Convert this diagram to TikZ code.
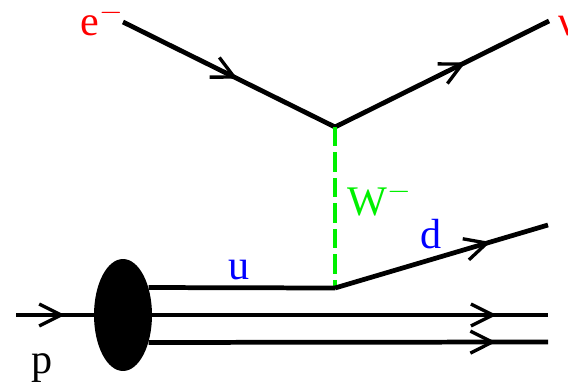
\documentclass[tikz,border=0pt]{standalone}
\usepackage{fontspec}
\setmainfont{Liberation Serif}
\usepackage{xcolor}
\usepackage{tikz}
\usetikzlibrary{arrows.meta, decorations.markings, shapes.geometric}

\definecolor{wgreen}{RGB}{0,240,0}

\tikzset{
  fermion/.style={line width=2.7pt, decoration={markings,
      mark=at position #1 with {\arrow{Straight Barb[length=12.5pt,width=12.5pt,line width=1.9pt]}}},
    postaction={decorate}},
  boson/.style={wgreen, line width=2.7pt, dash pattern=on 11pt off 3.5pt},
  quark/.style={line width=2.7pt},
  label/.style={anchor=base west, inner sep=0pt, font=\fontsize{24}{28}\selectfont},
  blob/.style={ellipse, fill=black, inner sep=0pt, minimum width=1.16cm, minimum height=2.24cm}
}

\begin{document}
\begin{tikzpicture}[x=0.02cm, y=-0.02cm]
    \useasboundingbox (0,0) rectangle (568,385);

    % Vertici
    \coordinate (ein) at (123,22);
    \coordinate (vtop) at (335,127);
    \coordinate (nuout) at (549,21);
    \coordinate (vbot) at (335,288);
    \coordinate (dout) at (548,225);
    \coordinate (pin) at (16,315);
    \coordinate (q1out) at (548,315);
    \coordinate (q2out) at (548,342);

    % Protone
    \node[blob] (blob) at (123,315) {};
    \draw[fermion=0.63] (pin) -- (blob.west);

    % Leptoni
    \draw[fermion=0.54] (ein) -- (vtop);
    \draw[fermion=0.61] (vtop) -- (nuout);

    % Bosone
    \draw[boson] (vtop) -- (vbot);

    % Quark
    \draw[quark] (blob.47) -- (vbot);
    \draw[fermion=0.73] (vbot) -- (dout);
    \draw[fermion=0.87] (blob.east) -- (q1out);
    \draw[fermion=0.87] (blob.-47) -- (q2out);

    % Etichette
    \node[label, red] (le) at (80,36) {e$^{-}$};
    \node[label, red] (lnu) at (558,36) {ν};
    \node[label, wgreen] (lw) at (347,215) {W$^{-}$};
    \node[label, blue] (lu) at (228,279) {u};
    \node[label, blue] (ld) at (420,248) {d};
    \node[label] (lp) at (31,373) {p};
\end{tikzpicture}
\end{document}
